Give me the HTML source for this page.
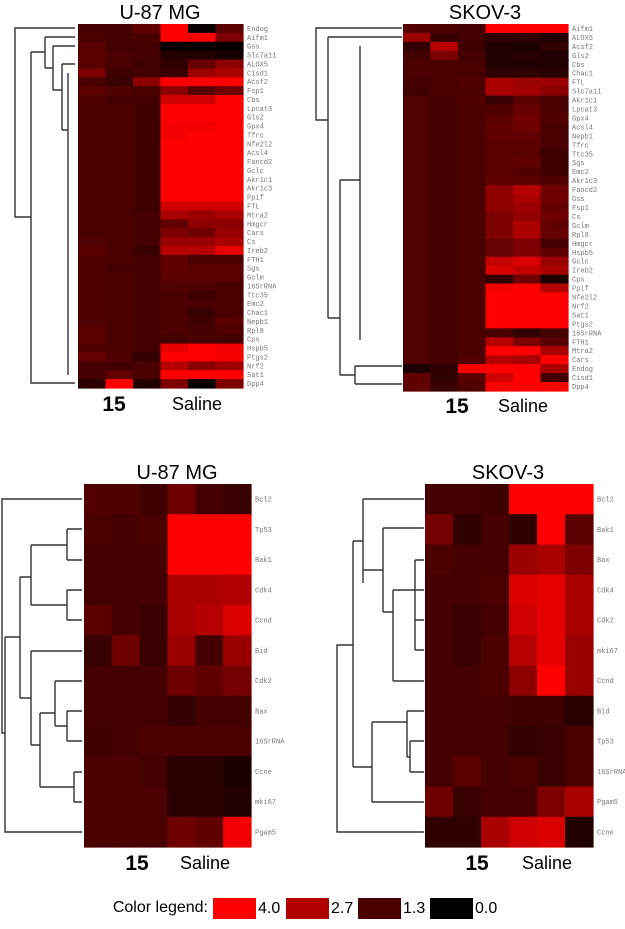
<!DOCTYPE html>
<html><head><meta charset="utf-8">
<style>
html,body{margin:0;padding:0;background:#fff;}
svg{display:block;}
.lbl{font-family:"Liberation Mono",monospace;font-size:7px;fill:#777;}
.ttl{font-family:"Liberation Sans",sans-serif;font-size:20px;fill:#000;}
.n15{font-family:"Liberation Sans",sans-serif;font-size:21px;font-weight:bold;fill:#000;}
.sal{font-family:"Liberation Sans",sans-serif;font-size:18px;fill:#000;}
.leg{font-family:"Liberation Sans",sans-serif;font-size:16px;fill:#000;}
.den{stroke:#333;stroke-width:1.4;fill:none;}
</style></head>
<body>
<svg id="chart" width="625" height="929" viewBox="0 0 625 929" xmlns="http://www.w3.org/2000/svg">
<g class="den">
<path d="M75,28H15V217H31 M31,52V383H75 M31,52H45 M45,37V68 M45,37H75 M45,68H53 M53,46V90 M53,46H75 M53,90H62 M62,64V130 M62,64H75 M62,130H68 M68,73V375"/>
</g>
<g class="den">
<path d="M402,28H316V120H328 M328,37V318 M328,37H402 M328,318H340 M340,180V375 M340,375H355 M355,366V384 M355,366H402 M355,384H402 M340,180H360 M360,46V340"/>
</g>
<g class="den">
<path d="M82,499H2V733H5 M5,637V832H82 M5,637H20 M20,577V698 M20,577H31 M31,545V605 M31,545H67 M67,529V560 M67,529H82 M67,560H82 M31,605H67 M67,590V620 M67,590H82 M67,620H82 M20,698H31 M31,651V745 M31,651H82 M31,745H40 M40,713V787 M40,713H55 M55,681V726 M55,681H82 M55,726H67 M67,711V741 M67,711H82 M67,741H82 M40,787H74 M74,772V802 M74,772H82 M74,802H82"/>
</g>
<g class="den">
<path d="M424,832H337V645H353 M353,541V767 M353,541H363 M363,499V583 M363,499H424 M363,570H383 M383,528V612 M383,528H424 M383,612H393 M393,590V681 M393,681H424 M393,590H415 M415,560V650 M415,560H424 M415,590H424 M415,620H424 M415,650H424 M353,767H372 M372,722V802 M372,802H424 M372,722H407 M407,711V757 M407,711H424 M407,757H410 M410,741V772 M410,741H424 M410,772H424"/>
</g>
<g id="layer"></g>
<text class="ttl" x="160" y="19" text-anchor="middle">U-87 MG</text>
<text class="ttl" x="485" y="19" text-anchor="middle">SKOV-3</text>
<text class="ttl" x="177" y="479" text-anchor="middle">U-87 MG</text>
<text class="ttl" x="508" y="479" text-anchor="middle">SKOV-3</text>
<text class="n15" x="114" y="411" text-anchor="middle">15</text>
<text class="sal" x="197" y="410" text-anchor="middle">Saline</text>
<text class="n15" x="457" y="413" text-anchor="middle">15</text>
<text class="sal" x="523" y="412" text-anchor="middle">Saline</text>
<text class="n15" x="137" y="870" text-anchor="middle">15</text>
<text class="sal" x="205" y="869" text-anchor="middle">Saline</text>
<text class="n15" x="477" y="870" text-anchor="middle">15</text>
<text class="sal" x="547" y="869" text-anchor="middle">Saline</text>
<g>
<text class="leg" x="208" y="912" text-anchor="end">Color legend:</text>
<rect x="213" y="898" width="43" height="21" fill="#ff0000"/>
<text class="leg" x="258" y="913">4.0</text>
<rect x="286" y="898" width="43" height="21" fill="#b00000"/>
<text class="leg" x="331" y="913">2.7</text>
<rect x="358" y="898" width="43" height="21" fill="#4a0000"/>
<text class="leg" x="403" y="913">1.3</text>
<rect x="430" y="898" width="43" height="21" fill="#000000"/>
<text class="leg" x="475" y="913">0.0</text>
</g>
</svg>
<script>
const genesU87Top=["Endog","Aifm1","Gss","Slc7a11","ALOX5","Cisd1","Acsf2","Fsp1","Cbs","Lpcat3","Gls2","Gpx4","Tfrc","Nfe2l2","Acsl4","Fancd2","Gclc","Akr1c1","Akr1c3","Ppif","FTL","Mtra2","Hmgcr","Cars","Cs","Ireb2","FTH1","Sgs","Gclm","16SrRNA","Ttc35","Emc2","Chac1","Nepb1","Rpl8","Cps","Hspb5","Ptgs2","Nrf2","Sat1","Dpp4"];
const valsU87Top=[
[1.2,1.2,1.6,4,0.2,1.5],[1.3,1.2,1.3,4,4,2.0],[1.5,1.2,1.2,0.1,0.1,0.1],[1.5,1.3,1.2,0.6,0.6,0.4],
[1.5,1.3,1.1,0.9,1.7,2.2],[2.0,1.1,1.2,1.0,2.4,2.6],[1.3,1.0,2.2,4,4,4],[1.5,1.4,1.3,2.2,1.5,1.8],
[1.4,1.2,1.2,3.2,3.2,4],[1.3,1.3,1.1,4,4,4],[1.3,1.3,1.1,4,4,4],[1.3,1.3,1.1,3.8,3.8,4],
[1.3,1.3,1.1,3.8,4,4],[1.3,1.3,1.1,4,4,4],[1.3,1.3,1.1,4,4,4],[1.3,1.3,1.1,4,4,4],
[1.3,1.3,1.1,4,4,4],[1.3,1.3,1.1,4,4,4],[1.3,1.3,1.1,4,4,4],[1.3,1.3,1.1,4,4,4],
[1.3,1.3,1.1,3.2,3.2,3.2],[1.3,1.3,1.2,2.6,2.4,2.6],[1.3,1.3,1.2,1.6,2.2,2.2],[1.3,1.3,1.2,2.0,1.8,2.4],
[1.4,1.3,1.2,2.4,2.4,2.6],[1.5,1.3,1.0,2.8,2.8,3.6],[1.4,1.3,1.2,1.6,1.3,1.3],[1.4,1.2,1.2,1.6,1.5,1.5],
[1.4,1.3,1.2,1.5,1.5,1.5],[1.4,1.3,1.2,1.4,1.4,1.3],[1.4,1.3,1.2,1.3,1.1,1.3],[1.4,1.3,1.2,1.3,1.3,1.3],
[1.4,1.3,1.2,1.3,1.0,1.3],[1.4,1.3,1.2,1.3,1.1,1.5],[1.5,1.3,1.2,1.3,1.2,1.4],[1.5,1.3,1.2,1.2,1.3,1.2],
[1.4,1.3,1.2,3.6,4,3.8],[1.7,1.4,0.9,4,4,3.9],[1.2,1.2,1.3,2.8,2.2,2.5],[1.2,1.6,1.3,4,4,4],
[0.8,4,0.6,2.0,0.1,2.0]];
const genesSkovTop=["Aifm1","ALOX5","Acsf2","Gls2","Cbs","Chac1","FTL","Slc7a11","Akr1c1","Lpcat3","Gpx4","Acsl4","Nepb1","Tfrc","Ttc35","Sgs","Emc2","Akr1c3","Fancd2","Gss","Fsp1","Cs","Gclm","Rpl8","Hmgcr","Hspb5","Gclc","Ireb2","Cps","Ppif","Nfe2l2","Nrf2","Sat1","Ptgs2","16SrRNA","FTH1","Mtra2","Cars","Endog","Cisd1","Dpp4"];
const valsSkovTop=[
[1.4,1.3,1.2,4,4,4],[2.4,1.0,1.2,0.8,0.9,0.6],[0.9,2.8,1.1,0.6,0.5,0.9],[1.2,2.0,1.2,0.6,0.7,0.6],
[1.3,1.3,1.3,0.6,0.6,0.6],[1.3,1.3,1.3,0.8,0.8,0.7],[1.2,1.3,1.4,2.6,2.4,2.4],[1.1,1.3,1.3,2.6,2.5,2.2],
[1.4,1.2,1.4,1.0,1.5,1.3],[1.4,1.2,1.3,1.4,1.7,1.3],[1.4,1.2,1.3,1.5,1.8,1.4],[1.4,1.2,1.3,1.6,1.8,1.3],
[1.4,1.2,1.3,1.6,1.6,1.3],[1.4,1.2,1.3,1.5,1.5,1.3],[1.4,1.2,1.3,1.5,1.5,1.1],[1.4,1.2,1.3,1.5,1.6,1.1],
[1.4,1.2,1.3,1.5,1.4,1.1],[1.4,1.2,1.3,1.6,1.5,1.4],[1.4,1.2,1.3,2.2,2.8,1.8],[1.4,1.2,1.3,2.2,2.6,1.8],
[1.4,1.2,1.3,2.2,2.4,1.7],[1.4,1.2,1.3,2.0,2.3,1.8],[1.4,1.2,1.3,2.0,2.6,1.6],[1.4,1.2,1.3,2.0,2.6,1.7],
[1.4,1.2,1.3,1.7,2.0,1.2],[1.4,1.2,1.3,1.7,2.0,1.6],[1.4,1.2,1.3,3.0,3.4,2.4],[1.4,1.2,1.3,3.4,3.0,2.6],
[1.4,1.2,1.3,0.9,1.8,0.5],[1.4,1.2,1.3,3.8,4,2.8],[1.4,1.2,1.3,4,4,4],[1.4,1.2,1.3,4,4,4],
[1.4,1.2,1.3,4,4,4],[1.4,1.2,1.3,4,4,4],[1.4,1.2,1.3,1.3,0.9,1.2],[1.4,1.2,1.3,2.8,2.0,1.5],
[1.4,1.2,1.3,4,4,2.6],[1.4,1.2,1.4,2.8,2.6,4],[0.5,0.8,4,4,4,2.6],[1.6,0.8,1.5,3.2,4,1.2],
[1.6,1.0,1.4,4,4,4]];
const genesU87Bot=["Bcl2","Tp53","Bak1","Cdk4","Ccnd","Bid","Cdk2","Bax","16SrRNA","Ccne","mki67","Pgam5"];
const valsU87Bot=[
[1.4,1.4,1.1,1.8,1.2,1.0],[1.3,1.2,1.3,4,4,4],[1.2,1.2,1.2,4,4,4],[1.2,1.2,1.2,2.6,2.6,2.7],
[1.5,1.2,1.0,2.6,2.8,3.4],[1.0,1.8,1.0,2.4,1.2,2.4],[1.2,1.2,1.2,1.8,1.6,1.9],[1.2,1.2,1.2,0.9,1.2,1.2],
[1.1,1.2,1.3,1.3,1.3,1.3],[1.3,1.3,1.2,0.7,0.7,0.5],[1.3,1.3,1.3,0.7,0.7,0.6],[1.3,1.3,1.3,1.8,1.6,3.8]];
const genesSkovBot=["Bcl2","Bak1","Bax","Cdk4","Cdk2","mki67","Ccnd","Bid","Tp53","16SrRNA","Pgam5","Ccne"];
const valsSkovBot=[
[1.2,1.2,1.1,4,4,4],[1.9,0.8,1.2,0.8,4,1.5],[1.3,1.2,1.2,2.4,2.6,2.0],[1.2,1.2,1.3,3.4,3.6,2.6],
[1.2,1.0,1.2,3.2,3.6,2.6],[1.2,1.0,1.3,2.8,3.6,2.4],[1.2,1.2,1.3,2.2,4,2.4],[1.2,1.2,1.2,1.1,1.1,0.7],
[1.2,1.2,1.2,0.9,1.0,1.3],[1.2,1.5,1.2,1.3,1.0,1.3],[1.8,1.0,1.2,1.2,2.0,2.6],[0.8,0.8,2.6,3.2,3.4,0.6]];
const colorStops=[0,1.3,2.7,4.0];
const colorReds=[0,74,176,255];

function colorOf(v){
  v=Math.max(0,Math.min(4,v));
  for(let i=0;i<colorStops.length-1;i++){
    if(v<=colorStops[i+1]){
      const t=(v-colorStops[i])/(colorStops[i+1]-colorStops[i]);
      return 'rgb('+Math.round(colorReds[i]+t*(colorReds[i+1]-colorReds[i]))+',0,0)';
    }
  }
  return 'rgb(255,0,0)';
}
const NS='http://www.w3.org/2000/svg';
const layer=document.getElementById('layer');
function drawHeatmap(name,genes,vals,x0,x1,y0,y1,labelX){
  const g=document.createElementNS(NS,'g');
  
  
  layer.appendChild(g);
  const nr=genes.length, nc=vals[0].length;
  const cw=(x1-x0)/nc, rh=(y1-y0)/nr;
  const xs=c=>x0+c*cw, ys=r=>y0+r*rh;
  vals.forEach((row,r)=>{
    row.forEach((v,c)=>{
      const rect=document.createElementNS(NS,'rect');
      rect.setAttribute('x',xs(c));rect.setAttribute('y',ys(r));
      rect.setAttribute('width',cw+0.6);rect.setAttribute('height',rh+0.6);
      rect.setAttribute('fill',colorOf(v));
      
      
      g.appendChild(rect);
    });
    const t=document.createElementNS(NS,'text');
    t.setAttribute('class','lbl');
    t.setAttribute('x',labelX);t.setAttribute('y',ys(r)+rh/2+2.5);
    t.textContent=genes[r];
    
    
    g.appendChild(t);
  });
}
drawHeatmap('heatmap-u87-ferroptosis',genesU87Top,valsU87Top,78,243,24,388,247);
drawHeatmap('heatmap-skov3-ferroptosis',genesSkovTop,valsSkovTop,403,568,24,391,572);
drawHeatmap('heatmap-u87-apoptosis',genesU87Bot,valsU87Bot,84,251,484,847,255);
drawHeatmap('heatmap-skov3-apoptosis',genesSkovBot,valsSkovBot,425,593,484,847,597);
</script>
</body></html>
